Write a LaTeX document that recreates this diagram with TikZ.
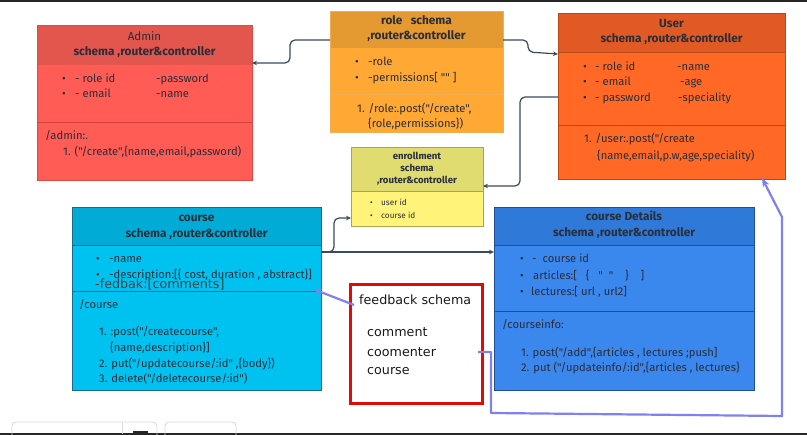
\documentclass[tikz,border=0pt]{standalone}
\usepackage{fontspec}
\newfontfamily\fira{Fira Sans}
\newfontfamily\fbfont{DejaVu Sans}
\usetikzlibrary{calc,arrows.meta}
\definecolor{textc}{HTML}{2A2D3A}
\definecolor{connc}{HTML}{3A4A5A}
\definecolor{purp}{HTML}{8080F0}
\definecolor{adminH}{HTML}{E3564E}\definecolor{adminB}{HTML}{FF5C56}\definecolor{adminD}{HTML}{D0443C}
\definecolor{roleH}{HTML}{E49A30}\definecolor{roleB}{HTML}{FFA833}\definecolor{roleD}{HTML}{F0B050}
\definecolor{userH}{HTML}{E15A23}\definecolor{userB}{HTML}{FF6925}\definecolor{userD}{HTML}{B84A18}
\definecolor{enrH}{HTML}{E0DC70}\definecolor{enrB}{HTML}{FFF37A}\definecolor{enrD}{HTML}{A8A450}
\definecolor{courseH}{HTML}{00ACD6}\definecolor{courseB}{HTML}{00C2F0}\definecolor{courseD}{HTML}{1A6A8A}
\definecolor{detH}{HTML}{2F7AD8}\definecolor{detB}{HTML}{3A87EE}\definecolor{detD}{HTML}{1F4F90}
\definecolor{fbred}{HTML}{E00A0A}
\begin{document}
\begin{tikzpicture}[x=1pt,y=-1pt,
  box/.style={rectangle,anchor=north west,inner sep=0pt,outer sep=0pt,line width=0.8pt},
  txt/.style={anchor=base west,inner sep=0pt,text=textc,font=\fira\fontsize{11.2}{13}\selectfont},
  hd/.style={anchor=base,inner sep=0pt,text=textc,font=\fira\fontsize{11.8}{13}\selectfont\bfseries},
  hdr/.style={anchor=base,inner sep=0pt,text=textc,font=\fira\fontsize{11.5}{13}\selectfont},
  stxt/.style={anchor=base west,inner sep=0pt,text=textc,font=\fira\fontsize{8.2}{9}\selectfont},
  shd/.style={anchor=base,inner sep=0pt,text=textc,font=\fira\fontsize{9.6}{10}\selectfont\bfseries},
  fbtxt/.style={anchor=base west,inner sep=0pt,text=black!90,font=\fbfont\fontsize{12.7}{14}\selectfont},
  conn/.style={draw=connc,line width=1.2pt,rounded corners=5pt,-{Stealth[length=5pt,width=4.5pt]}},
  fbarrow/.style={draw=purp,line width=2.2pt,line join=round,-{Stealth[length=9pt,width=7pt]}}]
\useasboundingbox (0,0) rectangle (807,435);
\fill[white] (0,0) rectangle (807,435);
% window frame lines
\draw[black!85,line width=2pt] (0,1) -- (807,1);
\draw[black!85,line width=2pt] (0,434) -- (807,434);
\draw[black!15,line width=0.8pt,rounded corners=4pt] (12,440) |- (157,422) -- (157,440);
\draw[black!15,line width=0.8pt] (122,422) -- (122,434);
\draw[black!15,line width=0.8pt,rounded corners=4pt] (165,440) |- (236,422) -- (236,440);
\fill[black!85] (133,431) rectangle (148,434);

% ---------- Admin ----------
\node[box,fill=adminB,minimum width=215pt,minimum height=155pt] (admin) at (37,25) {};
\fill[adminH] (admin.north west) rectangle ($(admin.north east)+(0,40)$);
\draw[adminD,line width=0.6pt] ($(admin.north west)+(0,97)$) -- ($(admin.north east)+(0,97)$);
\draw[adminD!70!adminB,line width=0.6pt] (admin.north west) rectangle (admin.south east);
\node[hdr] (aT1) at (144.5,40.5) {Admin};
\node[hd] (aT2) at (144.5,55.5) {schema ,router\&controller};
\node[txt] (ab1) at (62,83) {•};
\node[txt] (ab2) at (62,98) {•};
\node[txt] (a1) at (75,83) {- role id};
\node[txt] (a2) at (156,83) {-password};
\node[txt] (a3) at (75,98) {- email};
\node[txt] (a4) at (156,98) {-name};
\node[txt] (a5) at (45,140) {/admin:.};
\node[txt] (a6) at (63,156) {1. ("/create",\{name,email,password)};

% ---------- Role ----------
\node[box,fill=roleB,minimum width=173pt,minimum height=121pt] (role) at (330,11) {};
\fill[roleH] (role.north west) rectangle ($(role.north east)+(0,37)$);
\draw[roleD,line width=0.6pt] ($(role.north west)+(0,83)$) -- ($(role.north east)+(0,83)$);
\draw[roleD,line width=0.6pt] (role.north west) rectangle (role.south east);
\node[hd] (rT1) at (416.5,25) {role\ \ \ schema};
\node[hd] (rT2) at (416.5,40) {,router\&controller};
\node[txt] (rb1) at (355,66) {•};
\node[txt] (rb2) at (355,82) {•};
\node[txt] (r1) at (368,66) {-role};
\node[txt] (r2) at (368,82) {-permissions[ "" ]};
\node[txt] (r3) at (357,113) {1. /role:.post("/create",};
\node[txt] (r4) at (368,128) {\{role,permissions\})};

% ---------- User ----------
\node[box,fill=userB,minimum width=227pt,minimum height=166pt] (user) at (558,13) {};
\fill[userH] (user.north west) rectangle ($(user.north east)+(0,39)$);
\draw[userD,line width=0.6pt] ($(user.north west)+(0,39)$) -- ($(user.north east)+(0,39)$);
\draw[userD,line width=0.6pt] ($(user.north west)+(0,112)$) -- ($(user.north east)+(0,112)$);
\draw[userD,line width=0.6pt] (user.north west) rectangle (user.south east);
\node[hd] (uT1) at (671.5,28) {User};
\node[hd] (uT2) at (671.5,43) {schema ,router\&controller};
\node[txt] (ub1) at (583,71) {•};
\node[txt] (ub2) at (583,86) {•};
\node[txt] (ub3) at (583,102) {•};
\node[txt] (u1) at (595,71) {- role id};
\node[txt] (u2) at (677,71) {-name};
\node[txt] (u3) at (595,86) {- email};
\node[txt] (u4) at (680,86) {-age};
\node[txt] (u5) at (595,102) {- password};
\node[txt] (u6) at (678,102) {-speciality};
\node[txt] (u7) at (584,143) {1. /user:.post("/create};
\node[txt] (u8) at (597,160) {\{name,email,p.w,age,speciality)};

% ---------- Enrollment ----------
\node[box,fill=enrB,minimum width=132pt,minimum height=79pt] (enroll) at (351,147) {};
\fill[enrH] (enroll.north west) rectangle ($(enroll.north east)+(0,44)$);
\draw[enrD,line width=0.8pt] ($(enroll.north west)+(0,44)$) -- ($(enroll.north east)+(0,44)$);
\draw[enrD,line width=0.6pt] (enroll.north west) rectangle (enroll.south east);
\node[shd] (eT1) at (417,159.5) {enrollment};
\node[shd] (eT2) at (417,171.5) {schema};
\node[shd] (eT3) at (417,183.5) {,router\&controller};
\node[stxt] (eb1) at (370,206) {•};
\node[stxt] (eb2) at (370,219) {•};
\node[stxt] (e1) at (381,206) {user id};
\node[stxt] (e2) at (381,219) {course id};

% ---------- Course ----------
\node[box,fill=courseB,minimum width=249pt,minimum height=183pt] (course) at (72,207) {};
\fill[courseH] (course.north west) rectangle ($(course.north east)+(0,38)$);
\draw[courseD,line width=0.6pt] ($(course.north west)+(0,38)$) -- ($(course.north east)+(0,38)$);
\draw[courseD,line width=0.8pt] ($(course.north west)+(0,84)$) -- ($(course.north east)+(0,84)$);
\draw[courseD,line width=0.6pt] (course.north west) rectangle (course.south east);
\node[hd] (cT1) at (196.5,222) {course};
\node[hd] (cT2) at (196.5,238) {schema ,router\&controller};
\node[txt] (cb1) at (96,263) {•};
\node[txt] (cb2) at (96,279) {•};
\node[txt] (c1) at (109,263) {-name};
\node[txt] (c2) at (109,279) {-description:[\{ cost, duration , abstract\}]};
\node[fbtxt,text=black!75] (c3) at (95,289) {-fedbak:[comments]};
\node[txt] (c4) at (79,309) {/course};
\node[txt] (c5) at (99,336) {1. :post("/createcourse",};
\node[txt] (c6) at (110,352) {\{name,description\}]};
\node[txt] (c7) at (99,368) {2. put("/updatecourse/:id" ,\{body\})};
\node[txt] (c8) at (99,383) {3. delete("/deletecourse/:id")};

% ---------- Course Details ----------
\node[box,fill=detB,minimum width=260pt,minimum height=183pt] (details) at (494,207) {};
\fill[detH] (details.north west) rectangle ($(details.north east)+(0,38)$);
\draw[detD,line width=0.6pt] ($(details.north west)+(0,38)$) -- ($(details.north east)+(0,38)$);
\draw[detD,line width=0.8pt] ($(details.north west)+(0,104)$) -- ($(details.north east)+(0,104)$);
\draw[detD,line width=0.6pt] (details.north west) rectangle (details.south east);
\node[hd] (dT1) at (624,221) {course Details};
\node[hd] (dT2) at (624,237) {schema ,router\&controller};
\node[txt] (db1) at (520,263) {•};
\node[txt] (db2) at (520,280) {•};
\node[txt] (db3) at (520,296) {•};
\node[txt] (d1) at (532,263) {-\ \ course id};
\node[txt] (d2) at (533,280) {articles:[\ \ \ \{\ \ \ "\ \ "\ \ \ \ \}\ \ \ \ ]};
\node[txt] (d3) at (531,296) {lectures:[ url , url2]};
\node[txt] (d4) at (502,329) {/courseinfo:};
\node[txt] (d5) at (521,357) {1. post("/add",\{articles , lectures ;push]};
\node[txt] (d6) at (521,372) {2. put ("/updateinfo/:id",\{articles , lectures\}};

% ---------- Feedback ----------
\node[box,draw=fbred,line width=3pt,fill=white,minimum width=132pt,minimum height=119pt] (fb) at (350,285) {};
\node[fbtxt] (f1) at (359,305) {feedback schema};
\node[fbtxt] (f2) at (367,337) {comment};
\node[fbtxt] (f3) at (367,357) {coomenter};
\node[fbtxt] (f4) at (367,375) {course};

% ---------- Connectors ----------
\draw[conn] ($(role.north west)+(0,29)$) -- ++(-40,0) -- ++(0,23) -- ($(admin.north east)+(0,38)$);
\draw[conn] ($(role.north east)+(0,29)$) -- ++(25,0) -- ++(0,12) -- ($(user.north west)+(0,41)$);
\draw[conn] ($(user.north west)+(0,84)$) -- ++(-38,0) -- ++(0,89) -- ($(enroll.north east)+(0,39)$);
\draw[conn] ($(course.north east)+(0,45)$) -- ++(13,0) -- ++(0,-34) -- ($(enroll.north west)+(0,71)$);
\draw[conn,rounded corners=0pt] ($(course.north east)+(0,45)$) -- ($(details.north west)+(0,45)$);

\draw[fbarrow] ($(fb.north west)+(4,20)$) -- ($(course.north east)+(-8,82)$);
\draw[fbarrow] ($(fb.north east)+(-4,67)$) -- ++(13,0) -- ++(0,61) -- ++(291,3) -- ++(0,-199) -- ($(user.south west)+(204,-1)$);
\end{tikzpicture}
\end{document}
